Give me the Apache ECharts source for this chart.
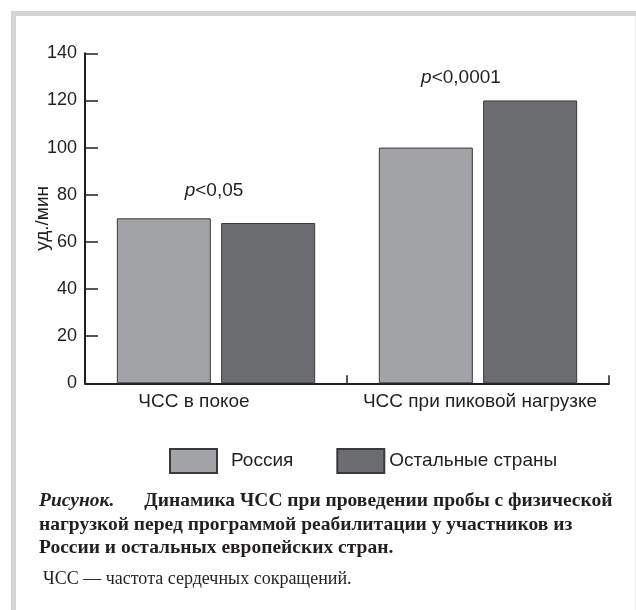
<!DOCTYPE html>
<html><head><meta charset="utf-8">
<script src="https://cdn.jsdelivr.net/npm/echarts@6/dist/echarts.min.js"></script>
<style>html,body{margin:0;padding:0;background:#fff}#c{width:636px;height:610px}</style>
</head><body><div id="c"></div>
<script>
var categories = ['ЧСС в покое', 'ЧСС при пиковой нагрузке'];
var seriesNames = ['Россия', 'Остальные страны'];
var russia = [70, 100];
var others = [68, 120];
var pLabels = ['0,05', '0,0001'];
var yTicks = [0, 20, 40, 60, 80, 100, 120, 140];
var yAxisName = 'уд./мин';
var captionLead = 'Рисунок.';
var captionLines = [
  'Динамика ЧСС при проведении пробы с физической',
  'нагрузкой перед программой реабилитации у участников из',
  'России и остальных европейских стран.'
];
var footnote = 'ЧСС — частота сердечных сокращений.';

var INK = '#231f20';
var SANS = '"Liberation Sans", Arial, sans-serif';
var SERIF = '"Liberation Serif", "Times New Roman", serif';

var labelPads = [[0, 44, 0, 0], [0, 0, 0, 4]];
var pOffsets = [[-2, -28], [-17, -22.5]];

var pData = categories.map(function (c, i) {
  return {
    value: [i, Math.max(russia[i], others[i])],
    label: {offset: pOffsets[i], formatter: '{i|p}{n|<' + pLabels[i] + '}'}
  };
});

var chart = echarts.init(document.getElementById('c'), null, {renderer: 'canvas'});
var option = {
  backgroundColor: '#fff',
  animation: false,
  grid: {left: 85, right: 27, top: 53.3, bottom: 226.7, containLabel: false},
  legend: {
    left: 164, top: 443,
    itemWidth: 47, itemHeight: 24, itemGap: 43,
    icon: 'rect',
    textStyle: {fontFamily: SANS, fontSize: 19, color: INK},
    data: [
      {name: seriesNames[0], textStyle: {padding: [0, 0, 0, 9]}},
      {name: seriesNames[1], textStyle: {padding: [0, 0, 0, 0]}}
    ]
  },
  xAxis: {
    type: 'category',
    data: categories.map(function (c, i) { return {value: c, textStyle: {padding: labelPads[i]}}; }),
    axisLine: {lineStyle: {color: INK, width: 2}},
    axisTick: {show: true, inside: true, length: 8, interval: 0, lineStyle: {color: INK, width: 1.5}},
    axisLabel: {fontFamily: SANS, fontSize: 19, color: INK, margin: 9, interval: 0}
  },
  yAxis: {
    type: 'value', min: yTicks[0], max: yTicks[yTicks.length - 1], interval: yTicks[1] - yTicks[0],
    name: yAxisName, nameLocation: 'middle', nameGap: 33, nameRotate: 90, nameMoveOverlap: false,
    nameTextStyle: {fontFamily: SANS, fontSize: 19, color: INK},
    axisLine: {show: true, lineStyle: {color: INK, width: 2}},
    axisTick: {show: true, inside: true, length: 13, lineStyle: {color: INK, width: 1.5}},
    axisLabel: {fontFamily: SANS, fontSize: 18, color: INK, margin: 8},
    splitLine: {show: false}
  },
  series: [
    {name: seriesNames[0], type: 'bar', data: russia, barWidth: 94, barGap: '11%',
     itemStyle: {color: '#a2a3a7', borderColor: '#3a3a3c', borderWidth: 1}},
    {name: seriesNames[1], type: 'bar', data: others, barWidth: 94,
     itemStyle: {color: '#6c6d71', borderColor: '#3a3a3c', borderWidth: 1}},
    {name: 'p', type: 'scatter', data: pData, symbolSize: 0, silent: true, z: 5,
     itemStyle: {color: INK, opacity: 1},
     label: {
       show: true, position: 'inside', align: 'center', verticalAlign: 'middle',
       color: INK, opacity: 1,
       rich: {
         i: {fontFamily: SANS, fontSize: 19, fontStyle: 'italic', color: INK},
         n: {fontFamily: SANS, fontSize: 19, color: INK}
       }
     }}
  ],
  graphic: [
    {type: 'rect', shape: {x: 11, y: 11, width: 625, height: 5}, style: {fill: '#d4d5d7'}, silent: true},
    {type: 'rect', shape: {x: 11, y: 11, width: 5, height: 599}, style: {fill: '#d4d5d7'}, silent: true},
    {type: 'rect', shape: {x: 635, y: 16, width: 1, height: 594}, style: {fill: '#ececec'}, silent: true},
    {type: 'text', x: 39, y: 501, style: {
      text: '{a|' + captionLead + '}{b|' + captionLines[0] + '}',
      verticalAlign: 'middle',
      rich: {
        a: {fontFamily: SERIF, fontSize: 19.5, fontStyle: 'italic', fontWeight: 'bold', fill: INK},
        b: {fontFamily: SERIF, fontSize: 19.5, fontWeight: 'bold', fill: INK, padding: [0, 0, 0, 30]}
      }
    }},
    {type: 'text', x: 39, y: 524.5, style: {text: captionLines[1], verticalAlign: 'middle', font: 'bold 19.5px ' + SERIF, fill: INK}},
    {type: 'text', x: 39, y: 548, style: {text: captionLines[2], verticalAlign: 'middle', font: 'bold 19.5px ' + SERIF, fill: INK}},
    {type: 'text', x: 43, y: 579, style: {text: footnote, verticalAlign: 'middle', font: '18px ' + SERIF, fill: INK}}
  ]
};
chart.setOption(option);
</script></body></html>
